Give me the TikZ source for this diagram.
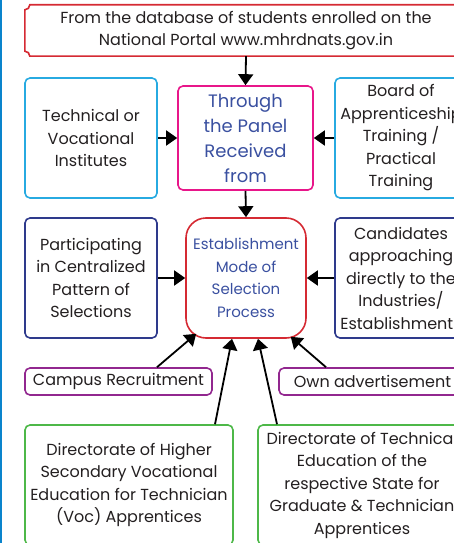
\documentclass[tikz,border=0pt]{standalone}
\usepackage{fontspec}
\setmainfont{Poppins}
\usetikzlibrary{arrows.meta}
\definecolor{portalred}{HTML}{D52A33}
\definecolor{instcyan}{HTML}{27AAE1}
\definecolor{panelpink}{HTML}{E8168A}
\definecolor{selblue}{HTML}{2E3A8C}
\definecolor{campuspurple}{HTML}{92278F}
\definecolor{dirgreen}{HTML}{4DB848}
\definecolor{modeblue}{HTML}{3A50A0}
\definecolor{textgray}{HTML}{231F20}
\definecolor{edgeblue}{HTML}{0A84CC}
\tikzstyle{box}=[draw, line width=1.6pt, rounded corners=5pt, align=center, inner sep=0pt, text=textgray, font=\fontsize{16}{22.5}\selectfont]
\tikzstyle{link}=[line width=1.8pt, -{Triangle[length=11pt,width=15pt]}]

\begin{document}
\begin{tikzpicture}[x=1pt, y=-1pt]
          \useasboundingbox (0, 0) rectangle (454, 543);
          \clip (0, 0) rectangle (454, 543);
          \fill[edgeblue] (0, 0) rectangle (2, 543);
          \node[align=center, inner sep=0pt, minimum width=442pt, minimum height=51pt, text=textgray,
            font=\fontsize{16}{22.5}\selectfont] (portal) at (246, 30.5)
            {From the database of students enrolled on the\\National Portal www.mhrdnats.gov.in};
          \draw[portalred, line width=1.6pt]
            ([xshift=5pt]portal.north west)
            -- ([xshift=-5pt]portal.north east)
            .. controls ([xshift=-5pt, yshift=-2.8pt]portal.north east) and ([yshift=-5pt, xshift=-2.8pt]portal.north east) .. ([yshift=-5pt]portal.north east)
            -- ([yshift=5pt]portal.south east)
            .. controls ([yshift=5pt, xshift=-2.8pt]portal.south east) and ([xshift=-5pt, yshift=2.8pt]portal.south east) .. ([xshift=-5pt]portal.south east)
            -- ([xshift=5pt]portal.south west)
            .. controls ([xshift=5pt, yshift=2.8pt]portal.south west) and ([yshift=5pt, xshift=2.8pt]portal.south west) .. ([yshift=5pt]portal.south west)
            -- ([yshift=-5pt]portal.north west)
            .. controls ([yshift=-5pt, xshift=2.8pt]portal.north west) and ([xshift=5pt, yshift=-2.8pt]portal.north west) .. cycle;
          \node[box, draw=instcyan, minimum width=132pt, minimum height=120pt] (tech) at (91, 138)
            {Technical or\\Vocational\\Institutes};
          \node[box, draw=panelpink, minimum width=135pt, minimum height=104pt, text=modeblue,
            font=\fontsize{18}{25}\selectfont] (panel) at (245.5, 138)
            {Through\\the Panel\\Received\\from};
          \node[box, draw=instcyan, minimum width=132pt, minimum height=120pt] (board) at (401, 138)
            {Board of\\Apprenticeship\\Training /\\Practical\\Training};
          \node[box, draw=selblue, minimum width=132pt, minimum height=120pt] (partic) at (91, 278)
            {Participating\\in Centralized\\Pattern of\\Selections};
          \node[box, draw=portalred, rounded corners=20pt, minimum width=120pt, minimum height=120pt, text=modeblue,
            font=\fontsize{15}{22.5}\selectfont] (estab) at (246, 278)
            {Establishment\\Mode of\\Selection\\Process};
          \node[box, draw=selblue, minimum width=132pt, minimum height=120pt] (cand) at (401, 278)
            {Candidates\\approaching\\directly to the\\Industries/\\Establishments};
          \node[box, draw=campuspurple, minimum width=187pt, minimum height=27pt] (campus) at (118.5, 381.5)
            {Campus Recruitment};
          \node[box, draw=campuspurple, minimum width=187pt, minimum height=27pt] (ownad) at (372.5, 381.5)
            {Own advertisement};
          \node[box, draw=dirgreen, minimum width=208pt, minimum height=120pt] (dirhs) at (129, 485)
            {Directorate of Higher\\Secondary Vocational\\Education for Technician\\(Voc) Apprentices};
          \node[box, draw=dirgreen, minimum width=208pt, minimum height=120pt] (dirte) at (362, 485)
            {Directorate of Technical\\Education of the\\respective State for\\Graduate \& Technician\\Apprentices};
          \draw[link] (portal.south) -- (panel.north);
          \draw[link] (tech.east) -- (panel.west);
          \draw[link] (board.west) -- (panel.east);
          \draw[link] (panel.south) -- (estab.north);
          \draw[link] (partic.east) -- (estab.west);
          \draw[link] (cand.west) -- (estab.east);
          \draw[link] ([xshift=38.5pt]campus.north) -- ([xshift=11pt, yshift=5pt]estab.south west);
          \draw[link] ([xshift=-46.5pt]ownad.north) -- ([xshift=-16pt, yshift=2pt]estab.south east);
          \draw[link] ([xshift=86pt]dirhs.north) -- ([xshift=-14pt]estab.south);
          \draw[link] ([xshift=-85pt]dirte.north) -- ([xshift=12pt]estab.south);
        \end{tikzpicture}
\end{document}
